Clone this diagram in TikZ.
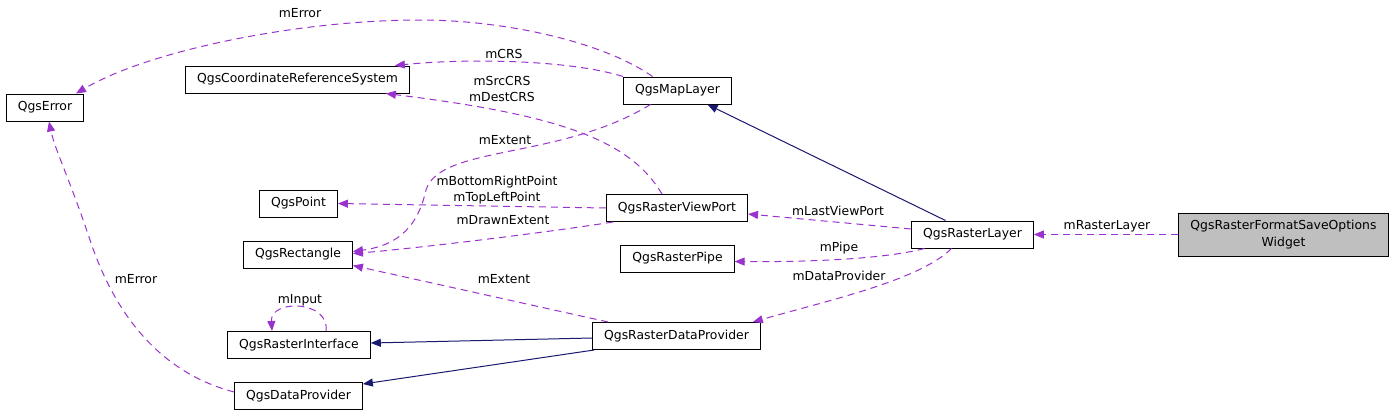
\documentclass[tikz,border=0pt]{standalone}
\usepackage{fontspec}
\setmainfont{DejaVu Sans}
\usetikzlibrary{arrows.meta}

\definecolor{usepurple}{HTML}{9A32CD}
\definecolor{inheritblue}{HTML}{191970}

\begin{document}
\begin{tikzpicture}[
  x=1pt, y=-1pt,
  font=\fontsize{12.4}{16.5}\selectfont,
  box/.style     = {rectangle, draw, line width=1pt, fill=white,
                    minimum height=27pt, inner xsep=11.5pt, inner ysep=0pt, align=center},
  usage/.style   = {-{Triangle[length=10pt,width=8pt]}, usepurple, line width=1pt,
                    dash pattern=on 7pt off 5pt},
  inherit/.style = {-{Triangle[length=10pt,width=8pt]}, inheritblue, line width=1pt},
  lbl/.style     = {inner sep=0pt, align=center}
]
\useasboundingbox (0,0) rectangle (1397,415);

\node[box] (error)       at (45,107.5)   {QgsError};
\node[box] (crs)         at (297.5,79.5) {QgsCoordinateReferenceSystem};
\node[box] (maplayer)    at (677.5,90.5) {QgsMapLayer};
\node[box] (point)       at (298.5,203.5) {QgsPoint};
\node[box] (viewport)    at (677,208)    {QgsRasterViewPort};
\node[box] (rect)        at (298,254.5)  {QgsRectangle};
\node[box] (pipe)        at (677.5,258.5) {QgsRasterPipe};
\node[box] (rasterlayer) at (972.5,234.5) {QgsRasterLayer};
\node[box, fill=black!25, minimum height=43pt] (widget) at (1283.5,234.5)
  {QgsRasterFormatSaveOptions\\Widget};
\node[box] (rinterface)  at (299,345)    {QgsRasterInterface};
\node[box] (rdprovider)  at (676.5,336)  {QgsRasterDataProvider};
\node[box] (dprovider)   at (298.5,396)  {QgsDataProvider};

% usage edges
\draw[usage] ([xshift=-25pt]maplayer.north) .. controls (600,40) and (500,20) .. (420,20)
  .. controls (300,20) and (150,50) .. ([xshift=31pt]error.north);
\node[lbl] (l-error1) at (300,13) {mError};

\draw[usage] (maplayer.north west) .. controls (570,60) and (470,58) .. ([xshift=-15pt]crs.north east);
\node[lbl] (l-crs) at (504,54) {mCRS};

\draw[usage] ([xshift=-15pt]viewport.north) .. controls (630,140) and (560,115) .. ([xshift=-24pt]crs.south east);
\node[lbl] (l-srccrs) at (502,89) {mSrcCRS\\mDestCRS};

\draw[usage] ([xshift=-27pt]maplayer.south) .. controls (560,160) and (440,145) .. (426,190)
  .. controls (418,225) and (400,245) .. ([yshift=3pt]rect.east);
\node[lbl] (l-extent1) at (505,140) {mExtent};

\draw[usage] (viewport.west) -- (point.east);
\node[lbl] (l-points) at (497,190) {mBottomRightPoint\\mTopLeftPoint};

\draw[usage] ([xshift=7pt]viewport.south west) .. controls (550,232) and (420,248) .. ([yshift=1pt]rect.east);
\node[lbl] (l-drawn) at (503,220) {mDrawnExtent};

\draw[usage] ([yshift=5.5pt]rasterlayer.west) -- ([yshift=-6pt]viewport.east);
\node[lbl] (l-lastvp) at (838,211) {mLastViewPort};

\draw[usage] ([xshift=-48pt]rasterlayer.south) .. controls (880,260) and (800,262) .. ([yshift=-3pt]pipe.east);
\node[lbl] (l-pipe) at (839,248) {mPipe};

\draw[usage] ([xshift=-21pt]rasterlayer.south) .. controls (920,280) and (830,300) .. ([xshift=-8pt]rdprovider.north east);
\node[lbl] (l-dataprov) at (839,276) {mDataProvider};

\draw[usage] (widget.west) -- (rasterlayer.east);
\node[lbl] (l-rlayer) at (1107,226) {mRasterLayer};

\draw[usage] ([xshift=16pt]rdprovider.north west) -- ([yshift=3pt]rect.south east);
\node[lbl] (l-extent2) at (504,279) {mExtent};

\draw[usage] ([xshift=27pt]rinterface.north) .. controls +(4,-31) and +(-2,-32) .. ([xshift=-27pt]rinterface.north);
\node[lbl] (l-input) at (300,300) {mInput};

\draw[usage] ([yshift=4pt]dprovider.west) .. controls (150,370) and (110,300) .. (90,240)
  .. controls (70,180) and (55,150) .. ([xshift=4pt]error.south);
\node[lbl] (l-error2) at (136,279) {mError};

% inheritance edges
\draw[inherit] ([xshift=-27pt]rasterlayer.north) -- ([xshift=30pt]maplayer.south);
\draw[inherit] ([yshift=-2pt]rdprovider.west) -- ([yshift=2pt]rinterface.east);
\draw[inherit] ([xshift=2pt]rdprovider.south west) -- ([yshift=-2pt]dprovider.north east);

\end{tikzpicture}
\end{document}
